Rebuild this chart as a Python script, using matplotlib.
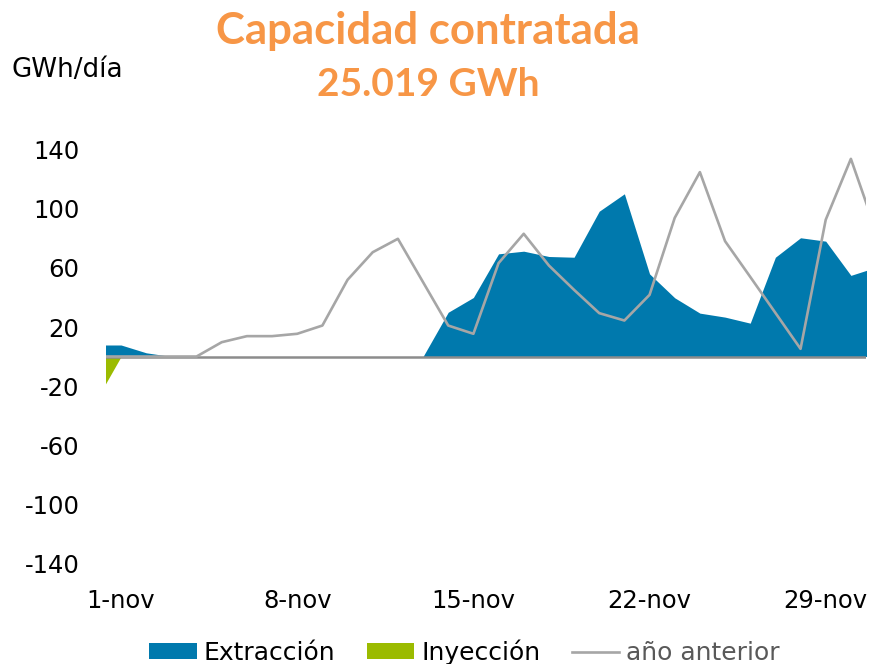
import matplotlib
matplotlib.use("Agg")
import matplotlib.pyplot as plt
from matplotlib.patches import Patch
from matplotlib.lines import Line2D

plt.rcParams['font.family'] = ['DejaVu Sans']
plt.rcParams['axes.unicode_minus'] = False

# Day of month (0 = 31-oct, 31 = 1-dic, so the series run off both edges)
days = list(range(0, 32))

extraccion = [7.8, 7.8, 2.5, 0, 0, 0, 0, 0, 0, 0, 0, 0, 0, 0,
              30, 40, 69.6, 71.4, 67.8, 67.3, 98.5, 110.3, 56, 39.8,
              29.4, 26.7, 22.6, 67.3, 80.5, 78.2, 55, 60.5]
inyeccion = [-30] + [0] * 31
anio_anterior = [0, 0, 0, 0, 0, 9.7, 13.8, 13.8, 15.4, 21, 52, 70.7,
                 79.8, 50.4, 21, 15.4, 63.3, 83.2, 61.7, 45.2, 29.4, 24.4,
                 41.8, 94, 125, 78.2, 54, 29.6, 5.2, 92.7, 134, 85]

tick_days = [1, 8, 15, 22, 29]
tick_labels = ['1-nov', '8-nov', '15-nov', '22-nov', '29-nov']
y_ticks = [140, 100, 60, 20, -20, -60, -100, -140]

BLUE = '#0079AD'
GREEN = '#9BBB00'
GREY = '#A6A6A6'
ORANGE = '#F79646'

fig = plt.figure(figsize=(8.75, 6.64), dpi=100)
ax = fig.add_axes([0.1211, 0.1521, 0.8686, 0.622])

ax.fill_between(days, 0, extraccion, color=BLUE, linewidth=0, zorder=2)
ax.fill_between(days, 0, inyeccion, color=GREEN, linewidth=0, zorder=2)
ax.axhline(0, color='#8C8C8C', linewidth=1.8, zorder=3)
ax.plot(days, anio_anterior, color=GREY, linewidth=1.9, zorder=4)

ax.set_xlim(0.4, 30.6)
ax.set_ylim(-140, 140)
ax.set_xticks(tick_days)
ax.set_xticklabels(tick_labels)
ax.set_yticks(y_ticks)
ax.tick_params(axis='both', length=0, labelsize=17.5, colors='black')
ax.tick_params(axis='x', pad=19)
ax.tick_params(axis='y', pad=19)
for s in ax.spines.values():
    s.set_visible(False)

fig.text(0.489, 0.954, 'Capacidad contratada', color=ORANGE, fontsize=31.5,
         fontweight='bold', family='Lato', ha='center', va='center')
fig.text(0.489, 0.872, '25.019 GWh', color=ORANGE, fontsize=28,
         fontweight='bold', family='Lato', ha='center', va='center')
fig.text(0.0137, 0.895, 'GWh/día', fontsize=18.8, ha='left', va='center')

handles = [Patch(facecolor=BLUE, edgecolor='none'),
           Patch(facecolor=GREEN, edgecolor='none'),
           Line2D([0], [0], color=GREY, linewidth=1.9)]
leg = fig.legend(handles, ['Extracción', 'Inyección', 'año anterior'],
                 loc='center', bbox_to_anchor=(0.531, 0.018), ncol=3,
                 frameon=False, fontsize=18, handlelength=1.9,
                 handleheight=0.56, handletextpad=0.28, columnspacing=1.25,
                 borderpad=0, borderaxespad=0)
leg.get_texts()[2].set_color('#595959')

fig.savefig('out.png', dpi=100)
